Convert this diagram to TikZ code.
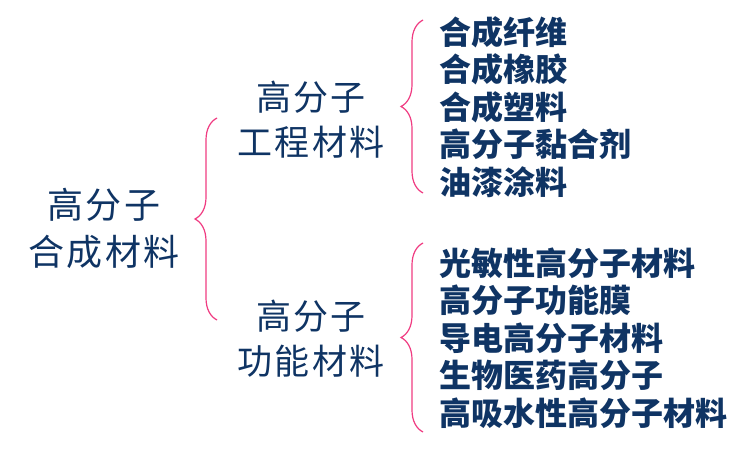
\documentclass[tikz,border=0pt]{standalone}
\usepackage{fontspec}
\setmainfont{Noto Sans CJK SC}
\newfontfamily\cjk{Noto Sans CJK SC}
\newfontfamily\cjkspaced[LetterSpace=6]{Noto Sans CJK SC}
\usetikzlibrary{decorations.pathreplacing}
\definecolor{txtblue}{RGB}{15,52,100}
\definecolor{bracepink}{RGB}{240,60,130}
\tikzset{
  toplabel/.style={text=txtblue, align=center, inner sep=0pt, font=\cjkspaced\fontsize{36}{47}\selectfont},
  midlabel/.style={text=txtblue, align=center, inner sep=0pt, font=\cjkspaced\fontsize{35}{45}\selectfont},
  listlabel/.style={text=txtblue, align=left, inner sep=0pt, anchor=west, font=\cjk\bfseries\fontsize{32}{37.5}\selectfont},
  bracebar/.style={draw=bracepink, line width=1.2pt, decorate, decoration={brace, amplitude=22pt}},
}
\begin{document}
\begin{tikzpicture}[x=1pt,y=-1pt]
\useasboundingbox (0,0) rectangle (746,452);
\fill[white] (0,0) rectangle (746,452);
\node[toplabel] (root) at (104,228) {高分子\\合成材料};
\node[midlabel] (eng) at (311,120) {高分子\\工程材料};
\node[midlabel] (fun) at (311,339) {高分子\\功能材料};
\node[listlabel] (englist) at (439,107) {合成纤维\\合成橡胶\\合成塑料\\高分子黏合剂\\油漆涂料};
\node[listlabel] (funlist) at (439,338) {光敏性高分子材料\\高分子功能膜\\导电高分子材料\\生物医药高分子\\高吸水性高分子材料};
\coordinate (b1t) at (217,118);
\coordinate (b1b) at (217,320);
\coordinate (b2t) at (423,20);
\coordinate (b2b) at (423,193);
\coordinate (b3t) at (423,243);
\coordinate (b3b) at (423,432);
\draw[bracebar] (b1b) -- (b1t);
\draw[bracebar] (b2b) -- (b2t);
\draw[bracebar] (b3b) -- (b3t);
\end{tikzpicture}
\end{document}
